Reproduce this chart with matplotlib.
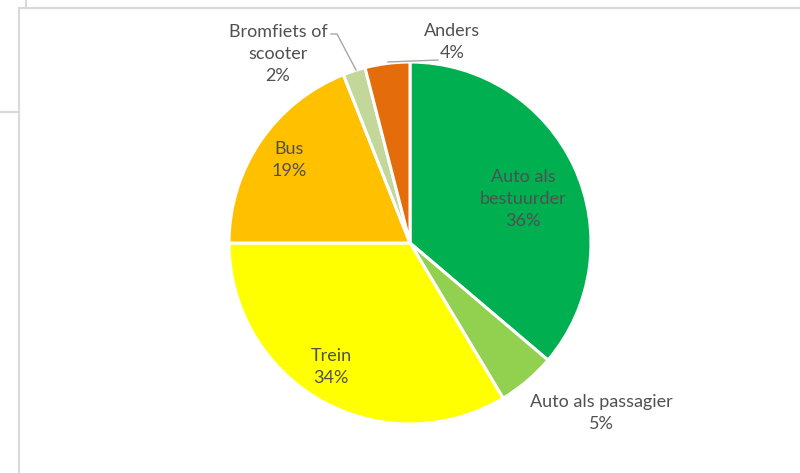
import matplotlib
matplotlib.use('Agg')
import matplotlib.pyplot as plt
from matplotlib.lines import Line2D

# data
labels = ['Auto als\nbestuurder', 'Auto als passagier', 'Trein', 'Bus',
          'Bromfiets of\nscooter', 'Anders']
shares = [36.2, 5.2, 33.6, 19.0, 2.0, 4.0]
colors = ['#00B050', '#92D050', '#FFFF00', '#FFC000', '#C4D79B', '#E46C0A']

# label centres in pixel coords (x, y from top)
label_pos = [(523, 199), (601, 413), (331, 367), (289, 160), (278, 54), (452, 42)]

W, H = 800, 473
fig = plt.figure(figsize=(W / 100, H / 100), dpi=100)
ax = fig.add_axes([0, 0, 1, 1])

ax.pie(shares, colors=colors, startangle=90, counterclock=False,
       center=(410, H - 243), radius=181, frame=True,
       wedgeprops=dict(edgecolor='white', linewidth=2.2))
ax.set_xlim(0, W)
ax.set_ylim(0, H)
ax.set_aspect('equal')
ax.axis('off')

for lab, val, (px, py) in zip(labels, shares, label_pos):
    ax.text(px, H - py, f'{lab}\n{round(val)}%', ha='center', va='center',
            fontsize=13, family=['Lato', 'DejaVu Sans'], color='#505050',
            linespacing=1.45)

# leader lines
ax.plot([331, 337, 356], [H - 34, H - 34, H - 70], color='#A6A6A6', lw=1)
ax.plot([388, 438], [H - 62, H - 60], color='#A6A6A6', lw=1)

# chart frame borders
gray = '#D9D9D9'
def fline(xs, ys):
    fig.add_artist(Line2D([x / W for x in xs], [1 - y / H for y in ys],
                          color=gray, lw=1.5, transform=fig.transFigure))

fline([19, W], [8, 8])
fline([19, 19], [8, H])
fline([26, 26], [0, 8])
fline([0, 19], [112, 112])

fig.savefig('out.png', dpi=100, facecolor='white')
